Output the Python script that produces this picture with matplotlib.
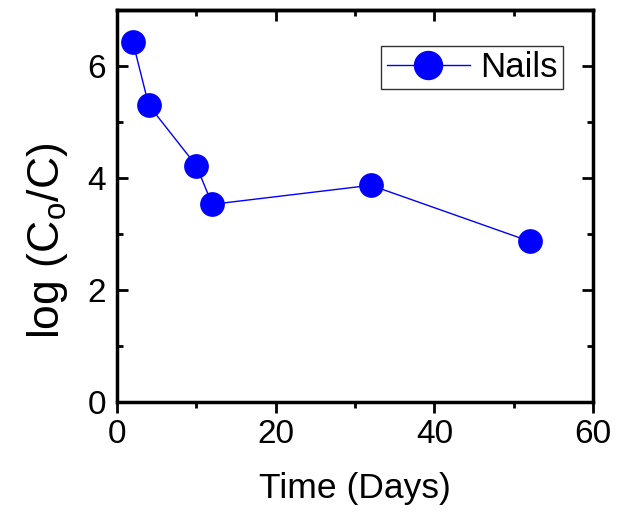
import numpy as np
import matplotlib.pyplot as plt

days = [2, 4, 10, 12, 32, 52]
log_ratio = [6.43, 5.30, 4.22, 3.53, 3.87, 2.87]

plt.rcParams['font.family'] = ['Liberation Sans', 'DejaVu Sans']
plt.rcParams['mathtext.fontset'] = 'custom'
plt.rcParams['mathtext.rm'] = 'Liberation Sans'
plt.rcParams['mathtext.it'] = 'Liberation Sans'

fig = plt.figure(figsize=(6.18, 5.16), dpi=100)
ax = fig.add_axes([117/618, 1-402/516, 476/618, 392/516])

ax.plot(days, log_ratio, '-o', color='blue', lw=1, ms=16.8, label='Nails')

ax.set_xlim(0, 60)
ax.set_ylim(0, 7)
xmaj = [0, 20, 40, 60]
xmin = [10, 30, 50]
ax.set_xticks(xmaj)
ax.set_xticks(xmin, minor=True)
ax.set_yticks([0, 2, 4, 6])
ax.set_yticks([1, 3, 5], minor=True)
ax.tick_params(axis='x', which='both', direction='out', top=False, labelsize=24, pad=4)
ax.tick_params(axis='y', which='both', direction='in', right=True, labelsize=24, pad=8)
ax.tick_params(which='major', length=8, width=2)
ax.tick_params(which='minor', length=4, width=2)

# top ticks point inward
top = ax.secondary_xaxis('top')
top.set_xticks(xmaj)
top.set_xticks(xmin, minor=True)
top.tick_params(which='both', direction='in', labeltop=False, width=2)
top.tick_params(which='major', length=8)
top.tick_params(which='minor', length=4)
top.spines['top'].set_linewidth(2.5)

for s in ax.spines.values():
    s.set_linewidth(2.5)

ax.set_xlabel('Time (Days)', fontsize=25.5, labelpad=16)
ax.set_ylabel('log (C$_\\mathregular{o}$/C)', fontsize=32)
ax.yaxis.set_label_coords(-0.098, 0.41)

leg = ax.legend(loc='upper right', bbox_to_anchor=(563/618, 1-46/516), bbox_transform=fig.transFigure,
                fontsize=25, frameon=True, fancybox=False, edgecolor='black', handlelength=2.4,
                borderpad=0.15, handletextpad=0.3, borderaxespad=0, markerscale=1.2)
leg.get_frame().set_linewidth(1)

fig.savefig('out.png', dpi=100)
